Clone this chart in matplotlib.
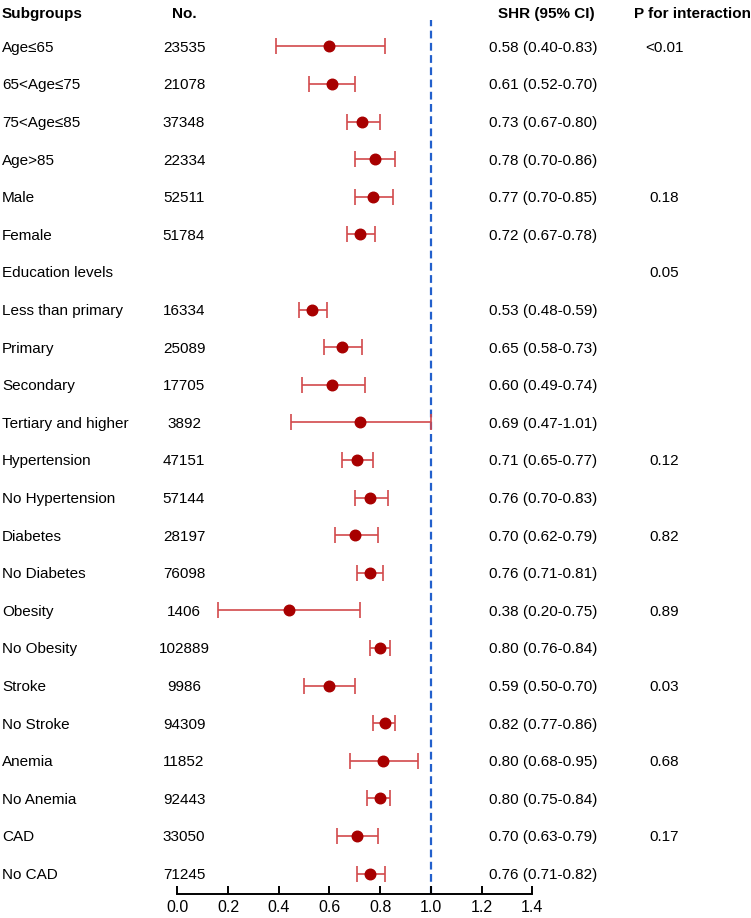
import numpy as np
import matplotlib
matplotlib.use("Agg")
import matplotlib.pyplot as plt
from matplotlib.transforms import blended_transform_factory

plt.rcParams['font.family'] = ['Liberation Sans', 'DejaVu Sans']

# rows, top to bottom
subgroups = ['Age≤65', '65<Age≤75', '75<Age≤85', 'Age>85', 'Male', 'Female',
             'Education levels', 'Less than primary', 'Primary', 'Secondary',
             'Tertiary and higher', 'Hypertension', 'No Hypertension', 'Diabetes',
             'No Diabetes', 'Obesity', 'No Obesity', 'Stroke', 'No Stroke',
             'Anemia', 'No Anemia', 'CAD', 'No CAD']
n_values = ['23535', '21078', '37348', '22334', '52511', '51784', '',
            '16334', '25089', '17705', '3892', '47151', '57144', '28197',
            '76098', '1406', '102889', '9986', '94309', '11852', '92443',
            '33050', '71245']
shr_text = ['0.58 (0.40-0.83)', '0.61 (0.52-0.70)', '0.73 (0.67-0.80)',
            '0.78 (0.70-0.86)', '0.77 (0.70-0.85)', '0.72 (0.67-0.78)', '',
            '0.53 (0.48-0.59)', '0.65 (0.58-0.73)', '0.60 (0.49-0.74)',
            '0.69 (0.47-1.01)', '0.71 (0.65-0.77)', '0.76 (0.70-0.83)',
            '0.70 (0.62-0.79)', '0.76 (0.71-0.81)', '0.38 (0.20-0.75)',
            '0.80 (0.76-0.84)', '0.59 (0.50-0.70)', '0.82 (0.77-0.86)',
            '0.80 (0.68-0.95)', '0.80 (0.75-0.84)', '0.70 (0.63-0.79)',
            '0.76 (0.71-0.82)']
p_text = ['<0.01', '', '', '', '0.18', '', '0.05', '', '', '', '', '0.12', '',
          '0.82', '', '0.89', '', '0.03', '', '0.68', '', '0.17', '']

# plotted estimates as drawn in the figure
hr = [0.60, 0.61, 0.73, 0.78, 0.77, 0.72, np.nan, 0.53, 0.65, 0.61, 0.72,
      0.71, 0.76, 0.70, 0.76, 0.44, 0.80, 0.60, 0.82, 0.81, 0.80, 0.71, 0.76]
lo = [0.39, 0.52, 0.67, 0.70, 0.70, 0.67, np.nan, 0.48, 0.58, 0.49, 0.45,
      0.65, 0.70, 0.62, 0.71, 0.16, 0.76, 0.50, 0.77, 0.68, 0.75, 0.63, 0.71]
hi = [0.82, 0.70, 0.80, 0.86, 0.85, 0.78, np.nan, 0.59, 0.73, 0.74, 1.00,
      0.77, 0.83, 0.79, 0.81, 0.72, 0.84, 0.70, 0.86, 0.95, 0.84, 0.79, 0.82]

hr = np.array(hr)
lo = np.array(lo)
hi = np.array(hi)
rows = np.arange(len(subgroups))

fig = plt.figure(figsize=(7.51, 9.18), dpi=100)
ax = fig.add_axes([177.3 / 751, 24 / 918, 355 / 751, 874 / 918])

ax.errorbar(hr, rows, xerr=[hr - lo, hi - hr], fmt='none', ecolor='#d2494c',
            elinewidth=1.2, capsize=5.5, capthick=1.2, zorder=2)
ax.plot(hr, rows, 'o', color='#a80000', markersize=7.6, zorder=3)
ax.axvline(1.0, color='#2360cc', linestyle=(0, (3.5, 2)), linewidth=1.6, zorder=1)

ax.set_xlim(0, 1.4)
ax.set_ylim(22.545, -0.70)
ax.set_xticks(np.arange(0, 1.41, 0.2))
ax.set_xticklabels(['%.1f' % v for v in np.arange(0, 1.41, 0.2)])
ax.set_yticks([])
for s in ['left', 'right', 'top']:
    ax.spines[s].set_visible(False)
ax.spines['bottom'].set_linewidth(1.4)
ax.tick_params(axis='x', direction='in', length=6, width=1.4, labelsize=11.5, pad=4)

tr = blended_transform_factory(fig.transFigure, ax.transData)
fs = 11
header_y = -0.86
ax.text(2 / 751, header_y, 'Subgroups', transform=tr, fontsize=fs, fontweight='bold',
        va='center', ha='left')
ax.text(184 / 751, header_y, 'No.', transform=tr, fontsize=fs, fontweight='bold',
        va='center', ha='center')
ax.text(546 / 751, header_y, 'SHR (95% CI)', transform=tr, fontsize=fs, fontweight='bold',
        va='center', ha='center')
ax.text(634 / 751, header_y, 'P for interaction', transform=tr, fontsize=fs,
        fontweight='bold', va='center', ha='left')

for i in rows:
    ax.text(2 / 751, i, subgroups[i], transform=tr, fontsize=fs, va='center_baseline', ha='left')
    ax.text(184 / 751, i, n_values[i], transform=tr, fontsize=fs, va='center_baseline', ha='center')
    ax.text(543 / 751, i, shr_text[i], transform=tr, fontsize=fs, va='center_baseline', ha='center')
    ax.text(664 / 751, i, p_text[i], transform=tr, fontsize=fs, va='center_baseline', ha='center')

fig.savefig('out.png', dpi=100)
